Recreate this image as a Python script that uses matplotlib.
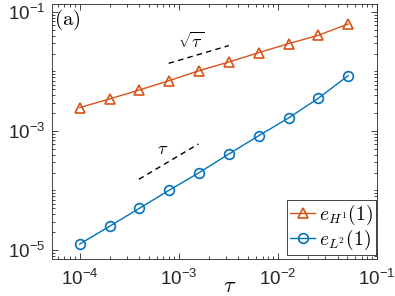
""" Convergence plot of e_H1(1) and e_L2(1) against time step tau. """

import numpy as np
import matplotlib
matplotlib.use("Agg")
import matplotlib.pyplot as plt
from matplotlib.ticker import FixedLocator, NullFormatter

plt.rcParams['font.family'] = ['Liberation Sans', 'DejaVu Sans']
plt.rcParams['mathtext.fontset'] = 'cm'

tau = [1e-4, 2e-4, 4e-4, 8e-4, 1.6e-3, 3.2e-3, 6.4e-3, 1.28e-2, 2.56e-2, 5.12e-2]
err_h1 = [2.47e-3, 3.45e-3, 4.89e-3, 7.0e-3, 1.03e-2, 1.44e-2, 2.07e-2, 2.93e-2, 4.05e-2, 6.28e-2]
err_l2 = [1.26e-5, 2.50e-5, 5.02e-5, 1.01e-4, 1.99e-4, 4.10e-4, 8.33e-4, 1.65e-3, 3.55e-3, 8.49e-3]

# reference slopes
sqrt_x = [7.9e-4, 3.2e-3]
sqrt_y = [1.37e-2, 2.72e-2]
lin_x = [3.95e-4, 1.58e-3]
lin_y = [1.54e-4, 6.05e-4]

ORANGE = '#D95319'
BLUE = '#0072BD'
AX_GRAY = '#262626'

fig = plt.figure(figsize=(3.95, 2.96), dpi=100)
ax = fig.add_axes([0.1316, 0.125, 0.8228, 0.8615])

ax.plot(tau, err_h1, color=ORANGE, marker='^', markersize=7, markerfacecolor='none',
        markeredgewidth=1.2, linewidth=1.0, label=r'$e_{H^1}(1)$')
ax.plot(tau, err_l2, color=BLUE, marker='o', markersize=7, markerfacecolor='none',
        markeredgewidth=1.2, linewidth=1.0, label=r'$e_{L^2}(1)$')

ax.plot(sqrt_x, sqrt_y, 'k--', linewidth=1.0, dashes=(4, 3))
ax.plot(lin_x, lin_y, 'k--', linewidth=1.0, dashes=(4, 3))
ax.text(1.33e-3, 3.17e-2, r'$\sqrt{\tau}$', fontsize=13, ha='center', va='center')
ax.text(6.9e-4, 4.92e-4, r'$\tau$', fontsize=13, ha='center', va='center')
ax.text(0.006, 0.937, r'$\mathrm{(a)}$', transform=ax.transAxes, fontsize=15,
        ha='left', va='center')

ax.set_xscale('log')
ax.set_yscale('log')
ax.set_xlim(5.25e-5, 1e-1)
ax.set_ylim(7.06e-6, 0.136)

ax.yaxis.set_major_locator(FixedLocator([1e-5, 1e-3, 1e-1]))
ymin = [m * 10.0 ** e for e in range(-6, 0) for m in range(1, 10)
        if not (m == 1 and e in (-5, -3, -1))]
ax.yaxis.set_minor_locator(FixedLocator(ymin))
ax.yaxis.set_minor_formatter(NullFormatter())
ax.xaxis.set_major_locator(FixedLocator([1e-4, 1e-3, 1e-2, 1e-1]))
xmin = [m * 10.0 ** e for e in range(-5, -1) for m in range(2, 10)]
ax.xaxis.set_minor_locator(FixedLocator(xmin))
ax.xaxis.set_minor_formatter(NullFormatter())

ax.tick_params(which='both', direction='in', top=True, right=True,
               colors=AX_GRAY, labelsize=13.5, width=0.6)
ax.tick_params(which='major', length=4)
ax.tick_params(which='minor', length=2)
ax.tick_params(axis='x', pad=7)
ax.tick_params(axis='y', pad=5)
for sp in ax.spines.values():
    sp.set_color(AX_GRAY)
    sp.set_linewidth(0.6)

fig.text(230 / 395.0, 1 - 287 / 296.0, r'$\tau$', fontsize=16, ha='center', va='center')

leg = ax.legend(loc='lower right', fontsize=14, handlelength=1.3, handletextpad=0.2,
                borderpad=0.15, labelspacing=0.05, fancybox=False,
                bbox_to_anchor=(0.997, 0.015), borderaxespad=0.0,
                edgecolor=AX_GRAY, framealpha=1)
leg.get_frame().set_linewidth(0.6)

fig.savefig('out.png', dpi=100)
